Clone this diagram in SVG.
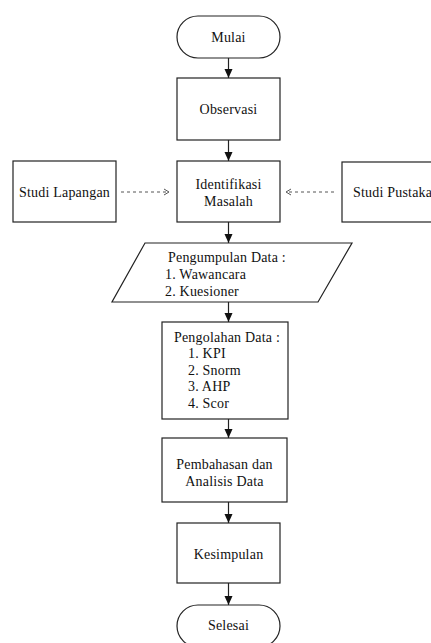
<svg xmlns="http://www.w3.org/2000/svg" width="431" height="643" viewBox="0 0 431 643">
<style>
.s{fill:#fff;stroke:#222;stroke-width:1.2}
.t{font-family:"Liberation Serif","Times New Roman",serif;font-size:14px;letter-spacing:0.2px;fill:#111}
.c{text-anchor:middle}
.l{stroke:#222;stroke-width:1.2;fill:none}
.d{stroke:#555;stroke-width:1;fill:none;stroke-dasharray:3 3}
</style>
<defs>
<marker id="a" markerWidth="10" markerHeight="10" refX="9" refY="5" orient="auto" markerUnits="userSpaceOnUse">
<path d="M0,1 L9,5 L0,9 Z" fill="#111"/>
</marker>
<marker id="o" markerWidth="8" markerHeight="8" refX="6" refY="4" orient="auto" markerUnits="userSpaceOnUse">
<path d="M1,1 L6,4 L1,7" fill="none" stroke="#555" stroke-width="1"/>
</marker>
</defs>
<rect width="431" height="643" fill="#fff"/>
<g id="connectors">
<line class="l" x1="228.5" y1="58" x2="228.5" y2="78" marker-end="url(#a)"/>
<line class="l" x1="228.5" y1="140" x2="228.5" y2="161" marker-end="url(#a)"/>
<line class="l" x1="228.5" y1="222" x2="228.5" y2="243" marker-end="url(#a)"/>
<line class="l" x1="228.5" y1="302" x2="228.5" y2="322" marker-end="url(#a)"/>
<line class="l" x1="228.5" y1="419" x2="228.5" y2="438" marker-end="url(#a)"/>
<line class="l" x1="228.5" y1="502" x2="228.5" y2="523" marker-end="url(#a)"/>
<line class="l" x1="228.5" y1="583" x2="228.5" y2="605" marker-end="url(#a)"/>
<line class="d" x1="121" y1="192" x2="169" y2="192" marker-end="url(#o)"/>
<line class="d" x1="334" y1="192" x2="286" y2="192" marker-end="url(#o)"/>
</g>
<g id="mulai">
<rect class="s" x="177" y="16" width="103" height="42" rx="21"/>
<text class="t c" x="228.5" y="42">Mulai</text>
</g>
<g id="observasi">
<rect class="s" x="177" y="78" width="103" height="62"/>
<text class="t c" x="228.5" y="114">Observasi</text>
</g>
<g id="studi-lapangan">
<rect class="s" x="13" y="161" width="103" height="61"/>
<text class="t c" x="64.5" y="197">Studi Lapangan</text>
</g>
<g id="identifikasi">
<rect class="s" x="177" y="161" width="103" height="61"/>
<text class="t c" x="228.5" y="189">Identifikasi</text>
<text class="t c" x="228.5" y="206">Masalah</text>
</g>
<g id="studi-pustaka">
<rect class="s" x="342" y="162" width="110" height="60"/>
<text class="t" x="353" y="197">Studi Pustaka</text>
</g>
<g id="pengumpulan">
<polygon class="s" points="145,243 352,243 318,302 112,302"/>
<text class="t" x="168" y="262">Pengumpulan Data :</text>
<text class="t" x="165" y="279">1. Wawancara</text>
<text class="t" x="165" y="296">2. Kuesioner</text>
</g>
<g id="pengolahan">
<rect class="s" x="162" y="322" width="126" height="97"/>
<text class="t c" x="227" y="342">Pengolahan Data :</text>
<text class="t" x="188" y="358">1. KPI</text>
<text class="t" x="188" y="375">2. Snorm</text>
<text class="t" x="188" y="391">3. AHP</text>
<text class="t" x="188" y="408">4. Scor</text>
</g>
<g id="pembahasan">
<rect class="s" x="162" y="438" width="125" height="64"/>
<text class="t c" x="224.5" y="469">Pembahasan dan</text>
<text class="t c" x="224.5" y="486">Analisis Data</text>
</g>
<g id="kesimpulan">
<rect class="s" x="177" y="523" width="103" height="60"/>
<text class="t c" x="228.5" y="559">Kesimpulan</text>
</g>
<g id="selesai">
<rect class="s" x="177" y="605" width="103" height="42" rx="21"/>
<text class="t c" x="228.5" y="630">Selesai</text>
</g>
</svg>
